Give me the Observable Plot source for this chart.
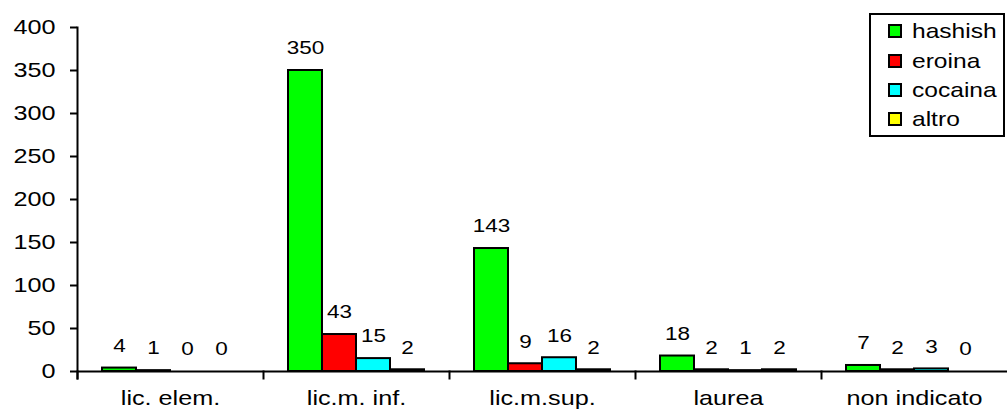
<!DOCTYPE html>
<html>
<head>
<meta charset="utf-8">
<script src="https://cdn.jsdelivr.net/npm/d3@7"></script>
<script src="https://cdn.jsdelivr.net/npm/@observablehq/plot@0.6"></script>
<style>
  html, body { margin: 0; padding: 0; background: white; }
  #wrap { position: relative; width: 1008px; height: 410px; font-family: "Liberation Sans", Arial, sans-serif; }
  #legend { position: absolute; left: 869px; top: 13px; width: 132px; height: 120px; border: 2px solid black; background: white; }
  .item { position: absolute; left: 17px; height: 24px; line-height: 24px; font-size: 21px; color: black; white-space: nowrap; }
  .sw { display: inline-block; width: 10px; height: 10px; border: 2px solid black; vertical-align: 0px; margin-right: 10px; }
  .lbl { display: inline-block; transform: scaleX(1.17); transform-origin: left center; }
</style>
</head>
<body>
<div id="wrap"><div id="legend"></div></div>
<script>
const categories = ["lic. elem.", "lic.m. inf.", "lic.m.sup.", "laurea", "non indicato"];
const seriesNames = ["hashish", "eroina", "cocaina", "altro"];
const hashish = [4, 350, 143, 18, 7];
const eroina = [1, 43, 9, 2, 2];
const cocaina = [0, 15, 16, 1, 3];
const altro = [0, 2, 2, 2, 0];
const seriesColors = ["#00ff00", "#ff0000", "#00ffff", "#ffff00"];
const yTicks = [0, 50, 100, 150, 200, 250, 300, 350, 400];

const seriesValues = [hashish, eroina, cocaina, altro];
const table = [];
categories.forEach((c, i) => {
  seriesNames.forEach((s, j) => table.push({cat: c, series: s, value: seriesValues[j][i]}));
});

const W = 1008, H = 410, mL = 75, mR = 0, mT = 27, mB = 39;
const innerH = H - mT - mB;

const chart = Plot.plot({
  width: W, height: H,
  marginLeft: mL, marginRight: mR, marginTop: mT, marginBottom: mB,
  style: {fontFamily: "'Liberation Sans', Arial, sans-serif", fontSize: "21px", background: "white", color: "black", overflow: "visible"},
  fx: {domain: categories, padding: 0, label: null, axis: null},
  x: {domain: seriesNames, paddingInner: 0, paddingOuter: 0.67, axis: null},
  y: {domain: [0, 400], axis: null},
  color: {domain: seriesNames, range: seriesColors},
  marks: [
    Plot.barY(table, {fx: "cat", x: "series", y: "value", fill: "series", stroke: "black", strokeWidth: 2}),
    Plot.text(table, {fx: "cat", x: "series", y: "value", text: d => String(d.value), dy: -22, fontSize: 18, fill: "black", className: "vals"}),
    Plot.ruleY([0], {stroke: "black", strokeWidth: 2}),
    Plot.frame({anchor: "left", insetTop: innerH, insetBottom: -7, stroke: "black", strokeWidth: 2}),
    Plot.frame({anchor: "left", fx: () => categories[0], insetBottom: -7, stroke: "black", strokeWidth: 2}),
    Plot.axisY({ticks: yTicks, tickSize: 7, tickPadding: 15, fontSize: 21, strokeWidth: 2, tickFormat: d => String(d), label: null, className: "yax"}),
    Plot.axisFx({anchor: "bottom", tickSize: 0, tickPadding: 19, fontSize: 21, label: null, className: "fxax"})
  ]
});
document.getElementById("wrap").insertBefore(chart, document.getElementById("legend"));

// horizontal stretch of the text, as in the reference rendering
function stretch(sel, k) {
  chart.querySelectorAll(sel).forEach(t => {
    const len = t.getComputedTextLength();
    if (len > 0) {
      t.setAttribute("textLength", len * k);
      t.setAttribute("lengthAdjust", "spacingAndGlyphs");
    }
  });
}
stretch(".vals text", 1.25);
stretch(".yax text", 1.2);
stretch(".fxax text", 1.2);

const legend = document.getElementById("legend");
const rowTops = [4, 34, 63, 92];
seriesNames.forEach((s, j) => {
  const it = document.createElement("div");
  it.className = "item";
  it.style.top = rowTops[j] + "px";
  const sw = document.createElement("span");
  sw.className = "sw";
  sw.style.background = seriesColors[j];
  it.appendChild(sw);
  const lb = document.createElement("span");
  lb.className = "lbl";
  lb.textContent = s;
  it.appendChild(lb);
  legend.appendChild(it);
});
</script>
</body>
</html>
